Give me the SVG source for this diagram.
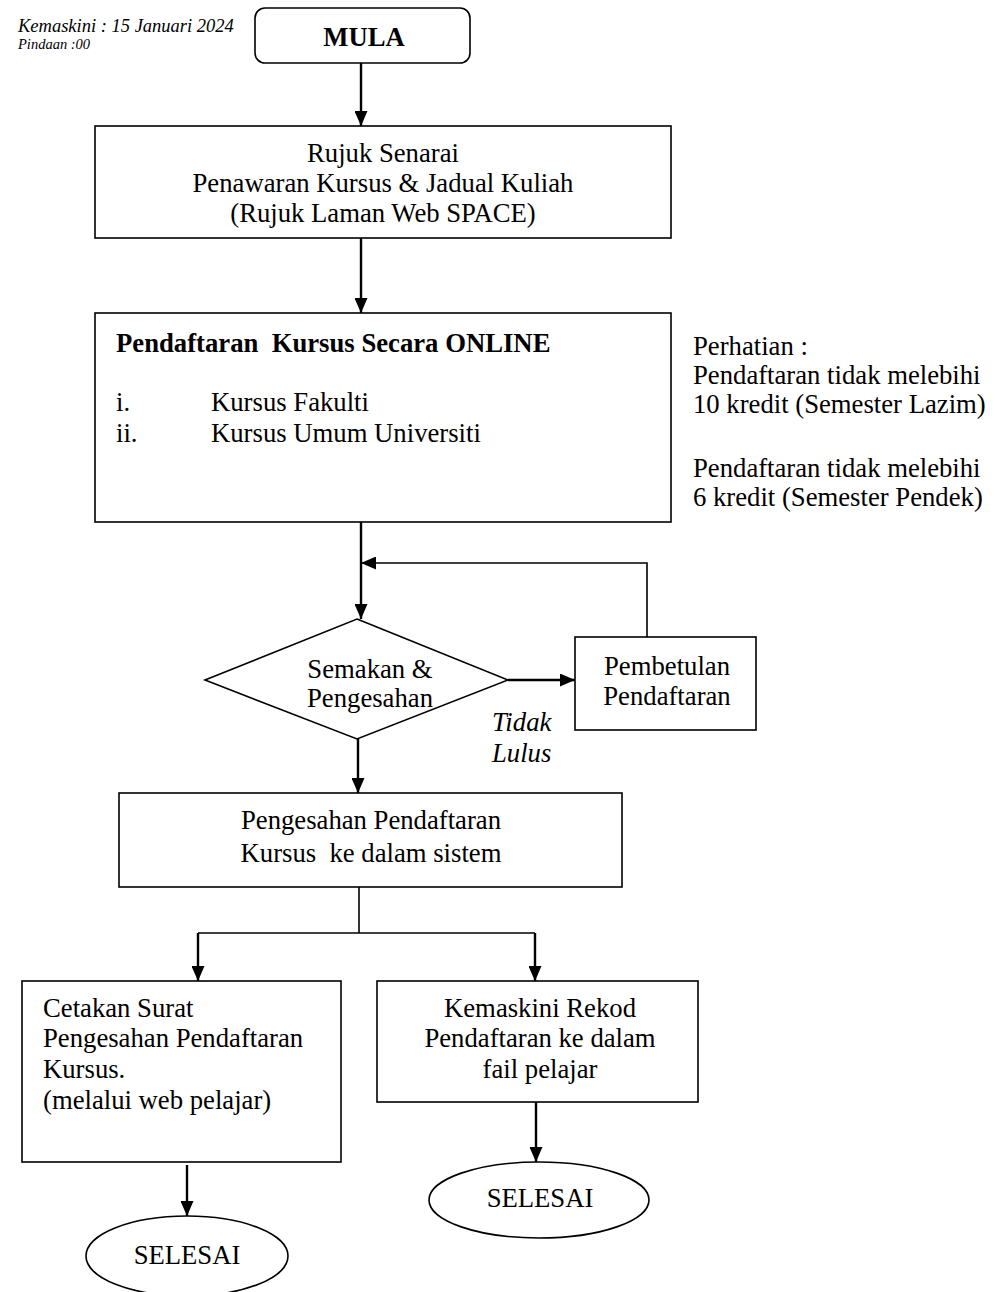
<svg xmlns="http://www.w3.org/2000/svg" width="995" height="1292" viewBox="0 0 995 1292">
<defs>
<marker id="ab" viewBox="0 0 15 13" refX="15" refY="6.5" markerWidth="15" markerHeight="13" orient="auto" markerUnits="userSpaceOnUse">
<path d="M0,0 L15,6.5 L0,13 z" fill="#000"/>
</marker>
</defs>
<style>
text{font-family:"Liberation Serif","Times New Roman",serif;fill:#000;font-size:26.7px}
.c{text-anchor:middle}
.b{font-weight:bold}
.i{font-style:italic}
.h1{font-size:18.5px}
.h2{font-size:14.5px}
.box{fill:#fff;stroke:#000;stroke-width:1.6}
.ln{fill:none;stroke:#000;stroke-width:2.4}
.thin{fill:none;stroke:#000;stroke-width:1.6}
</style>
<rect width="995" height="1292" fill="#fff"/>
<g id="header">
<text class="i h1" x="18" y="32">Kemaskini : 15 Januari 2024</text>
<text class="i h2" x="18" y="49">Pindaan :00</text>
</g>
<g id="connectors">
<path class="ln" d="M361,63 V126" marker-end="url(#ab)"/>
<path class="ln" d="M361,238 V313" marker-end="url(#ab)"/>
<path class="ln" d="M361,522 V619" marker-end="url(#ab)"/>
<path class="thin" d="M647,637 V563 H361" marker-end="url(#ab)"/>
<path class="ln" d="M508,680 H575" marker-end="url(#ab)"/>
<path class="ln" d="M358,739 V793" marker-end="url(#ab)"/>
<path class="thin" d="M359,887 V933"/>
<path class="thin" d="M198,933 H535"/>
<path class="ln" d="M198,933 V981" marker-end="url(#ab)"/>
<path class="ln" d="M535,933 V981" marker-end="url(#ab)"/>
<path class="ln" d="M536,1102 V1162" marker-end="url(#ab)"/>
<path class="ln" d="M187,1165 V1216" marker-end="url(#ab)"/>
</g>
<g id="mula">
<rect class="box" x="255" y="8" width="215" height="55" rx="10" ry="10"/>
<text class="c b" x="364" y="46">MULA</text>
</g>
<g id="rujuk">
<rect class="box" x="95" y="126" width="576" height="112"/>
<text class="c" x="383" y="162">Rujuk Senarai</text>
<text class="c" x="383" y="192">Penawaran Kursus &amp; Jadual Kuliah</text>
<text class="c" x="383" y="222">(Rujuk Laman Web SPACE)</text>
</g>
<g id="pendaftaran">
<rect class="box" x="95" y="313" width="576" height="209"/>
<text class="b" x="116" y="352" xml:space="preserve">Pendaftaran  Kursus Secara ONLINE</text>
<text x="116" y="411">i.</text>
<text x="211" y="411">Kursus Fakulti</text>
<text x="116" y="442">ii.</text>
<text x="211" y="442">Kursus Umum Universiti</text>
</g>
<g id="perhatian">
<text x="693" y="355">Perhatian :</text>
<text x="693" y="384">Pendaftaran tidak melebihi</text>
<text x="693" y="413">10 kredit (Semester Lazim)</text>
<text x="693" y="477">Pendaftaran tidak melebihi</text>
<text x="693" y="506">6 kredit (Semester Pendek)</text>
</g>
<g id="semakan">
<polygon class="box" points="357,619 508,680 357,739 205,680"/>
<text class="c" x="370" y="678">Semakan &amp;</text>
<text class="c" x="370" y="707">Pengesahan</text>
</g>
<g id="tidak-lulus">
<text class="i" x="492" y="731">Tidak</text>
<text class="i" x="492" y="762">Lulus</text>
</g>
<g id="pembetulan">
<rect class="box" x="575" y="637" width="181" height="93"/>
<text class="c" x="667" y="675">Pembetulan</text>
<text class="c" x="667" y="705">Pendaftaran</text>
</g>
<g id="pengesahan">
<rect class="box" x="119" y="793" width="503" height="94"/>
<text class="c" x="371" y="829">Pengesahan Pendaftaran</text>
<text class="c" x="371" y="862" xml:space="preserve">Kursus  ke dalam sistem</text>
</g>
<g id="cetakan">
<rect class="box" x="22" y="981" width="319" height="181"/>
<text x="43" y="1017">Cetakan Surat</text>
<text x="43" y="1047">Pengesahan Pendaftaran</text>
<text x="43" y="1078">Kursus.</text>
<text x="43" y="1109">(melalui web pelajar)</text>
</g>
<g id="kemaskini">
<rect class="box" x="377" y="981" width="321" height="121"/>
<text class="c" x="540" y="1017">Kemaskini Rekod</text>
<text class="c" x="540" y="1047">Pendaftaran ke dalam</text>
<text class="c" x="540" y="1078">fail pelajar</text>
</g>
<g id="selesai-kanan">
<ellipse class="box" cx="539" cy="1200" rx="110" ry="38"/>
<text class="c" x="540" y="1207">SELESAI</text>
</g>
<g id="selesai-kiri">
<ellipse class="box" cx="187" cy="1256" rx="101" ry="40"/>
<text class="c" x="187" y="1264">SELESAI</text>
</g>
</svg>
